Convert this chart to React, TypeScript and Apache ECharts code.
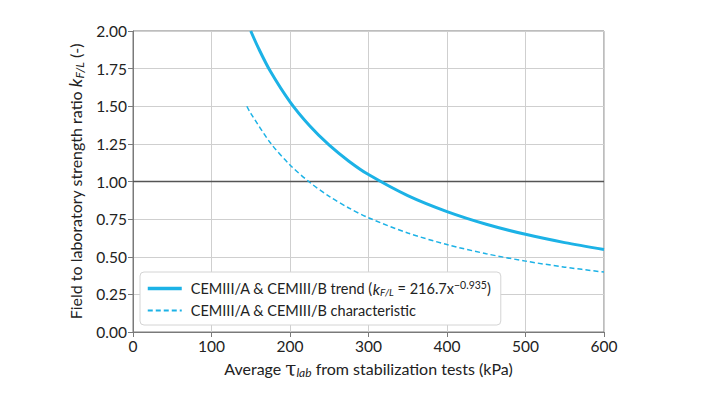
import React, { useEffect, useRef } from "react";
import * as echarts from "echarts";

const trendX = [150, 160, 175, 200, 225, 250, 275, 300, 350, 400, 450, 500, 550, 600];
const trendY = [2.0, 1.884, 1.732, 1.529, 1.37, 1.241, 1.135, 1.046, 0.906, 0.8, 0.716, 0.649, 0.594, 0.548];
const charX = [145, 150, 175, 200, 225, 250, 275, 300, 350, 400, 450, 500, 550, 600];
const charY = [1.5, 1.453, 1.257, 1.11, 0.995, 0.901, 0.824, 0.759, 0.658, 0.581, 0.52, 0.471, 0.431, 0.398];
const refX = [0, 600];
const refY = [1.0, 1.0];
const trendName = "CEMIII/A & CEMIII/B trend";
const charName = "CEMIII/A & CEMIII/B characteristic";

const FONT = "Lato";
const BLUE = "#1cb2e6";

export default function App() {
  const ref = useRef<HTMLDivElement>(null);
  useEffect(() => {
    if (!ref.current) return;
    const chart = echarts.init(ref.current, null, { renderer: "svg" });
    chart.setOption({
      animation: false,
      textStyle: { fontFamily: FONT },
      grid: {
        left: 125,
        right: 95,
        top: 23,
        bottom: 55,
        show: true,
        borderColor: "#7a7a7a",
        borderWidth: 1,
        backgroundColor: "transparent",
      },
      xAxis: {
        type: "value",
        min: 0,
        max: 600,
        interval: 100,
        name: "{t|Average }{tau|τ}{sub|lab}{t| from stabilization tests (kPa)}",
        nameLocation: "middle",
        nameGap: 23,
        nameTextStyle: {
          rich: {
            t: { fontSize: 16, color: "#222", fontFamily: FONT },
            tau: { fontSize: 20, color: "#222", fontFamily: "DejaVu Serif" },
            sub: { fontSize: 12, color: "#222", fontStyle: "italic", fontFamily: FONT, padding: [8, 0, 0, 0] },
          },
        },
        axisLine: { show: true, lineStyle: { color: "#7a7a7a" } },
        axisTick: { show: true, length: 5, lineStyle: { color: "#7a7a7a" } },
        axisLabel: { fontSize: 15.5, color: "#222", margin: 6 },
        splitLine: { show: true, lineStyle: { color: "#cfcfcf", width: 1 } },
      },
      yAxis: {
        type: "value",
        min: 0,
        max: 2,
        interval: 0.25,
        name: "{t|Field to laboratory strength ratio }{k|k}{sub|F/L}{t| (-)}",
        nameLocation: "middle",
        nameGap: 40,
        nameRotate: 90,
        nameTextStyle: {
          rich: {
            t: { fontSize: 16, color: "#222", fontFamily: FONT },
            k: { fontSize: 18, color: "#222", fontStyle: "italic", fontFamily: FONT },
            sub: { fontSize: 12, color: "#222", fontStyle: "italic", fontFamily: FONT, padding: [8, 0, 0, 0] },
          },
        },
        axisLine: { show: true, lineStyle: { color: "#7a7a7a" } },
        axisTick: { show: true, length: 5, lineStyle: { color: "#7a7a7a" } },
        axisLabel: {
          fontSize: 15.5,
          color: "#222",
          margin: 6,
          formatter: (v: number) => v.toFixed(2),
        },
        splitLine: { show: true, lineStyle: { color: "#cfcfcf", width: 1 } },
      },
      legend: {
        orient: "vertical",
        left: 132,
        top: 264,
        padding: [7, 10, 7, 6],
        itemGap: 6,
        itemWidth: 34,
        itemHeight: 12,
        borderColor: "#d4d4d4",
        borderWidth: 1,
        borderRadius: 4,
        backgroundColor: "#ffffff",
        itemStyle: { opacity: 0 },
        data: [
          { name: trendName, lineStyle: { width: 3.5 } },
          { name: charName, lineStyle: { width: 2, type: [5, 3] } },
        ],
        formatter: (name: string) =>
          name === trendName
            ? "{t|" + trendName + " (}{k|k}{sub|F/L}{t| = 216.7x}{sup|−0.935}{t|)}"
            : "{t|" + charName + "}",
        textStyle: {
          padding: [0, 0, 0, 4],
          rich: {
            t: { fontSize: 14.5, color: "#222", fontFamily: FONT },
            k: { fontSize: 15.5, color: "#222", fontStyle: "italic", fontFamily: FONT },
            sub: { fontSize: 10, color: "#222", fontStyle: "italic", fontFamily: FONT, padding: [7, 0, 0, 0] },
            sup: { fontSize: 10.5, color: "#222", fontFamily: FONT, padding: [0, 0, 8, 0] },
          },
        },
      },
      series: [
        {
          name: "ref",
          type: "line",
          data: refX.map((x, i) => [x, refY[i]]),
          symbol: "none",
          silent: true,
          lineStyle: { color: "#555555", width: 1.5 },
          z: 1,
        },
        {
          name: trendName,
          type: "line",
          data: trendX.map((x, i) => [x, trendY[i]]),
          symbol: "none",
          smooth: 0.3,
          lineStyle: { color: BLUE, width: 3 },
          itemStyle: { color: BLUE },
          z: 3,
        },
        {
          name: charName,
          type: "line",
          data: charX.map((x, i) => [x, charY[i]]),
          symbol: "none",
          smooth: 0.3,
          lineStyle: { color: BLUE, width: 1.5, type: [5, 3] },
          itemStyle: { color: BLUE },
          z: 3,
        },
      ],
    });
    return () => chart.dispose();
  }, []);
  return <div ref={ref} style={{ width: 691, height: 379 }} />;
}
